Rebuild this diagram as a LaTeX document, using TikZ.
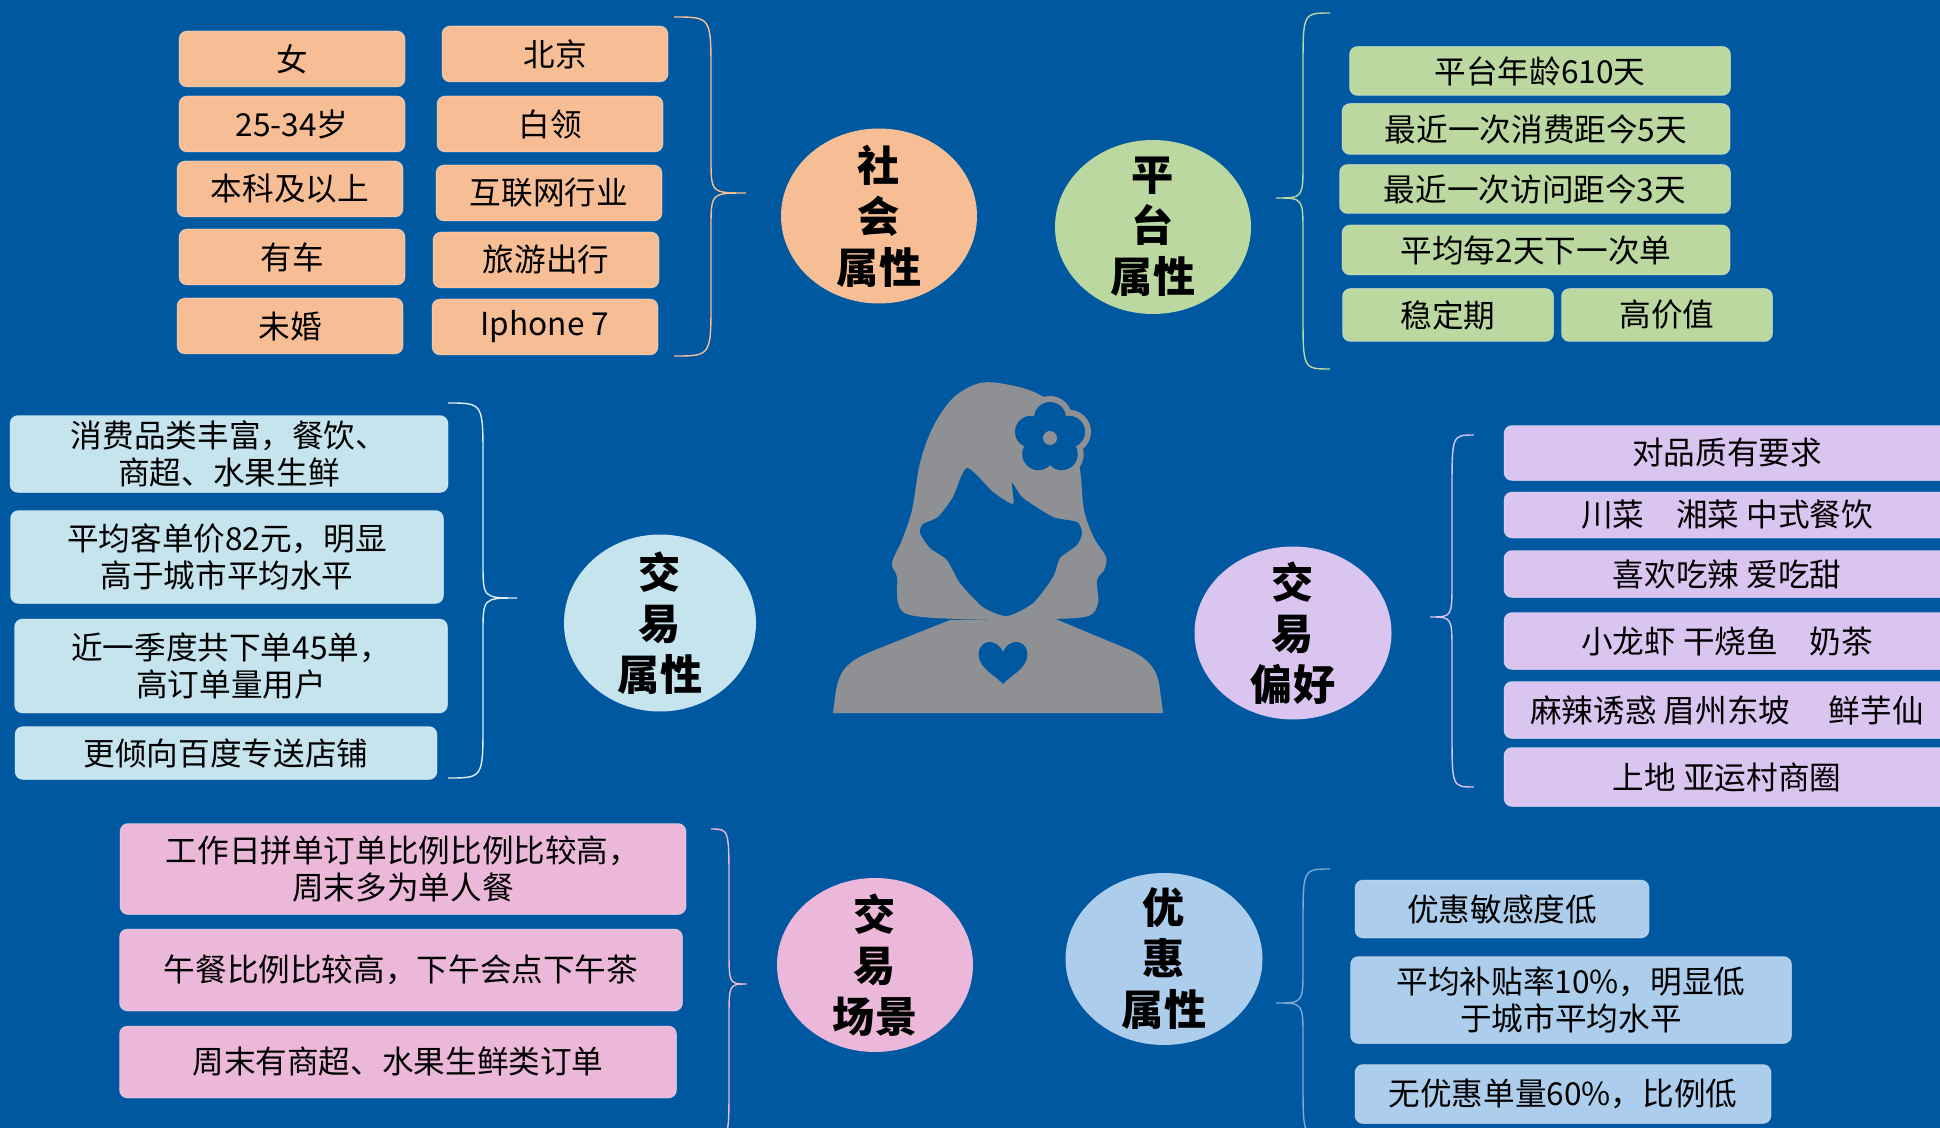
\documentclass[tikz,border=0pt]{standalone}
\usepackage{fontspec}
\newfontfamily\cjk{Noto Sans CJK SC}
\usetikzlibrary{shapes.geometric}

\definecolor{bgblue}{RGB}{0,88,160}
\definecolor{socfill}{RGB}{247,190,150}
\definecolor{platfill}{RGB}{186,216,160}
\definecolor{tradefill}{RGB}{198,228,238}
\definecolor{preffill}{RGB}{218,196,240}
\definecolor{scenefill}{RGB}{236,184,218}
\definecolor{discfill}{RGB}{172,205,235}
\definecolor{discline}{RGB}{120,170,215}
\definecolor{figgray}{RGB}{142,144,147}

\tikzset{
  tag/.style={rounded corners=0.16cm, inner sep=0pt, align=center,
    font=\cjk\fontsize{18}{21}\selectfont, draw=white, draw opacity=0.35, line width=0.5pt},
  boxsize/.style 2 args={minimum width=#1*0.02cm, minimum height=#2*0.02cm},
  hub/.style={ellipse, inner sep=0pt},
  hubtext/.style={align=center, inner sep=0pt, font=\cjk\bfseries\fontsize{24}{29}\selectfont},
  bracket/.style={line width=0.8pt},
}

% accolade : couleur, x bout, x droite, x pointe, y haut, y pointe, y bas
\newcommand\sidebrace[7]{%
  \draw[bracket, #1] (#2,#5) .. controls (#3,#5) .. (#3,{#5+55})
    -- (#3,{#6-35}) .. controls (#3,#6) .. (#4,#6)
    .. controls (#3,#6) .. (#3,{#6+35})
    -- (#3,{#7-55}) .. controls (#3,#7) .. (#2,#7);}

\begin{document}
\begin{tikzpicture}[x=0.02cm, y=-0.02cm]
  \useasboundingbox (0,0) rectangle (1940,1128);
  \fill[bgblue] (0,0) rectangle (1940,1128); % fond

  % social
  \foreach \i/\x/\y/\t in {1/292/59/女, 2/292/124/25-34岁, 3/290/189/本科及以上, 4/292/257/有车, 5/290/326/未婚}
    \node[tag, fill=socfill, boxsize={226}{56}] (socl\i) at (\x,\y) {\t};
  \foreach \i/\x/\y/\t in {1/555/54/北京, 2/550/124/白领, 3/549/193/互联网行业, 4/546/260/旅游出行, 5/545/327/Iphone 7}
    \node[tag, fill=socfill, boxsize={226}{56}] (socr\i) at (\x,\y) {\t};
  \sidebrace{socfill}{674}{711}{746}{17}{193}{356}
  \node[hub, fill=socfill, boxsize={196}{175}] (soc) at (879,216) {};
  \node[hubtext] (soc-label) at (soc) {社\\会\\属性};

  % plateforme
  \node[hub, fill=platfill, boxsize={196}{174}] (plat) at (1153,227) {};
  \node[hubtext] (plat-label) at (plat) {平\\台\\属性};
  \sidebrace{platfill}{1330}{1303}{1276}{13}{198}{369}
  \node[tag, fill=platfill, boxsize={381}{49}] (plat1) at (1540,71) {平台年龄610天};
  \node[tag, fill=platfill, boxsize={388}{51}] (plat2) at (1536,129) {最近一次消费距今5天};
  \node[tag, fill=platfill, boxsize={391}{49}] (plat3) at (1535,189) {最近一次访问距今3天};
  \node[tag, fill=platfill, boxsize={388}{50}] (plat4) at (1536,250) {平均每2天下一次单};
  \node[tag, fill=platfill, boxsize={211}{53}] (plat5) at (1448,315) {稳定期};
  \node[tag, fill=platfill, boxsize={211}{53}] (plat6) at (1667,315) {高价值};

  % transactions
  \node[tag, fill=tradefill, boxsize={438}{77}] (trade1) at (229,454) {消费品类丰富，餐饮、\\商超、水果生鲜};
  \node[tag, fill=tradefill, boxsize={433}{93}] (trade2) at (227,557) {平均客单价82元，明显\\高于城市平均水平};
  \node[tag, fill=tradefill, boxsize={433}{94}] (trade3) at (231,666) {近一季度共下单45单，\\高订单量用户};
  \node[tag, fill=tradefill, boxsize={422}{53}] (trade4) at (226,753) {更倾向百度专送店铺};
  \sidebrace{tradefill!60!white}{448}{483}{517}{403}{598}{778}
  \node[hub, fill=tradefill, boxsize={192}{177}] (trade) at (660,623) {};
  \node[hubtext] (trade-label) at (trade) {交\\易\\属性};

  % silhouette
  \fill[figgray] plot[smooth cycle, tension=0.55] coordinates {(980,383) (1010,385) (1040,395)
    (1070,420) (1080,470) (1084,510) (1094,538) (1106,557) (1104,570) (1097,580) (1098,603)
    (1088,616) (1050,619) (960,619) (910,615) (898,603) (897,577) (892,563) (902,540)
    (912,510) (920,463) (933,427) (953,398)};
  \fill[figgray] (833,713) -- (836,690) .. controls (840,668) and (850,660) .. (875,650)
    -- (950,620) -- (1053,618) -- (1130,650) .. controls (1150,660) and (1158,670) .. (1160,690)
    -- (1163,713) -- cycle;
  \fill[bgblue] plot[smooth cycle, tension=0.4] coordinates {(967,468) (993,492) (1013,504)
    (1012,483) (1023,498) (1053,517) (1077,522) (1082,533) (1077,545) (1060,558) (1053,577)
    (1033,603) (1007,616) (983,607) (960,583) (947,560) (930,548) (920,533) (923,524)
    (938,517) (953,497)};
  \fill[bgblue] (1003,652) .. controls (996,636) and (976,640) .. (979,658)
    .. controls (982,670) and (996,676) .. (1003,684)
    .. controls (1010,676) and (1024,670) .. (1027,658)
    .. controls (1030,640) and (1010,636) .. (1003,652) -- cycle;
  \coordinate (flower) at (1050,438);
  \foreach \a in {-90,-18,54,126,198}
    \fill[figgray] (flower) ++(\a:20) circle[radius=0.44cm];
  \foreach \a in {-90,-18,54,126,198}
    \fill[bgblue] (flower) ++(\a:20) circle[radius=0.32cm];
  \fill[figgray] (flower) circle[radius=0.14cm];

  % preferences
  \node[hub, fill=preffill, boxsize={197}{173}] (pref) at (1293,633) {};
  \node[hubtext] (pref-label) at (pref) {交\\易\\偏好};
  \sidebrace{preffill}{1474}{1452}{1430}{435}{617}{787}
  \foreach \i/\y/\h/\t in {1/453/55/对品质有要求, 2/515/46/{川菜\quad 湘菜 中式餐饮},
      3/574/47/{喜欢吃辣 爱吃甜}, 4/641/57/{小龙虾 干烧鱼\quad 奶茶},
      5/710/57/{麻辣诱惑 眉州东坡\quad\ 鲜芋仙}, 6/777/59/{上地 亚运村商圈}}
    \node[tag, fill=preffill, boxsize={446}{\h}] (pref\i) at (1727,\y) {\t};

  % scenes
  \node[tag, fill=scenefill, boxsize={566}{91}] (scene1) at (403,869) {工作日拼单订单比例比例比较高，\\周末多为单人餐};
  \node[tag, fill=scenefill, boxsize={563}{82}] (scene2) at (401,970) {午餐比例比较高，下午会点下午茶};
  \node[tag, fill=scenefill, boxsize={557}{72}] (scene3) at (398,1062) {周末有商超、水果生鲜类订单};
  \sidebrace{scenefill}{711}{729}{747}{829}{984}{1139}
  \node[hub, fill=scenefill, boxsize={196}{174}] (scene) at (875,965) {};
  \node[hubtext] (scene-label) at (scene) {交\\易\\场景};

  % remises
  \node[hub, fill=discfill, boxsize={197}{172}] (disc) at (1164,959) {};
  \node[hubtext] (disc-label) at (disc) {优\\惠\\属性};
  \sidebrace{discline}{1330}{1303}{1276}{869}{1003}{1137}
  \node[tag, fill=discfill, boxsize={294}{58}] (disc1) at (1502,909) {优惠敏感度低};
  \node[tag, fill=discfill, boxsize={441}{87}] (disc2) at (1571,1000) {平均补贴率10\%，明显低\\于城市平均水平};
  \node[tag, fill=discfill, boxsize={416}{59}] (disc3) at (1563,1094) {无优惠单量60\%，比例低};
\end{tikzpicture}
\end{document}
